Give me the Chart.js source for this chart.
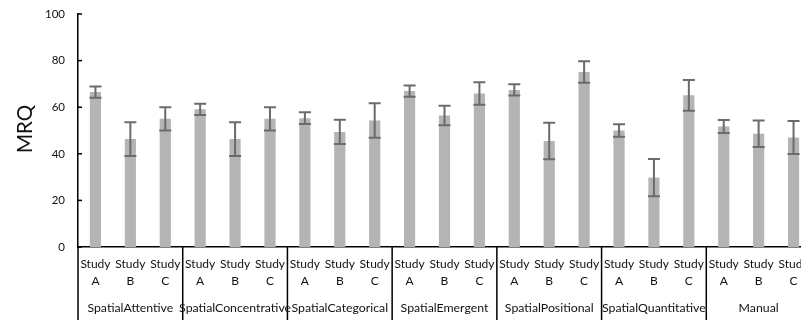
<!DOCTYPE html>
<html>
<head>
<meta charset="utf-8">
<script src="https://cdn.jsdelivr.net/npm/chart.js@4/dist/chart.umd.min.js"></script>
<style>
html, body { margin:0; padding:0; overflow:hidden; background:#fff; width:801px; height:320px; }
#wrap { width:840px; height:320px; }
</style>
</head>
<body>
<div id="wrap"><canvas id="c" width="840" height="320"></canvas></div>
<script>
const groups = ['SpatialAttentive','SpatialConcentrative','SpatialCategorical','SpatialEmergent','SpatialPositional','SpatialQuantitative','Manual'];
const studies = ['A','B','C'];
const means  = [66.5,46.3,55.0, 59.1,46.3,55.0, 55.3,49.4,54.3, 66.9,56.4,65.9, 67.4,45.5,75.1, 50.0,29.8,65.1, 51.7,48.6,47.0];
const errors = [2.4,7.2,5.0,   2.4,7.2,5.0,   2.5,5.2,7.4,   2.4,4.2,4.8,   2.4,7.8,4.6,   2.7,8.0,6.6,   2.8,5.7,7.1];
const yTicks = [0,20,40,60,80,100];
const yTitle = 'MRQ';

const labels = groups.flatMap(g => studies.map(s => ['Study', s]));
const FONT = 'Lato';

const extras = {
  id: 'extras',
  afterDatasetsDraw(chart) {
    const ctx = chart.ctx, x = chart.scales.x, y = chart.scales.y;
    ctx.save();
    ctx.strokeStyle = '#6b6b6b';
    ctx.lineWidth = 2;
    means.forEach((m, i) => {
      const px = x.getPixelForValue(i);
      const top = y.getPixelForValue(m + errors[i]);
      const bot = y.getPixelForValue(m - errors[i]);
      ctx.beginPath();
      ctx.moveTo(px, top); ctx.lineTo(px, bot);
      ctx.moveTo(px - 6, top); ctx.lineTo(px + 6, top);
      ctx.moveTo(px - 6, bot); ctx.lineTo(px + 6, bot);
      ctx.stroke();
    });
    ctx.restore();
  },
  afterDraw(chart) {
    const ctx = chart.ctx, x = chart.scales.x, y = chart.scales.y, ca = chart.chartArea;
    const H = chart.height;
    ctx.save();
    ctx.strokeStyle = '#000';
    ctx.lineWidth = 1.5;
    yTicks.forEach(v => {
      const py = y.getPixelForValue(v);
      ctx.beginPath(); ctx.moveTo(ca.left - 1, py); ctx.lineTo(ca.left + 4, py); ctx.stroke();
    });
    for (let g = 0; g <= groups.length; g++) {
      let bx;
      if (g === 0) bx = ca.left;
      else if (g === groups.length) bx = ca.right;
      else bx = (x.getPixelForValue(3*g - 1) + x.getPixelForValue(3*g)) / 2;
      ctx.beginPath(); ctx.moveTo(bx, ca.bottom); ctx.lineTo(bx, H); ctx.stroke();
    }
    ctx.fillStyle = '#111';
    ctx.font = '12.3px ' + FONT;
    ctx.textAlign = 'center';
    ctx.textBaseline = 'middle';
    groups.forEach((g, k) => {
      const cx = (x.getPixelForValue(3*k) + x.getPixelForValue(3*k + 2)) / 2;
      ctx.fillText(g, cx, 308);
    });
    ctx.translate(25, 129);
    ctx.rotate(-Math.PI / 2);
    ctx.font = '20.5px ' + FONT;
    ctx.fillText(yTitle, 0, 0);
    ctx.restore();
  }
};

new Chart(document.getElementById('c'), {
  type: 'bar',
  data: {
    labels: labels,
    datasets: [{
      data: means,
      backgroundColor: '#b4b4b4',
      borderWidth: 0,
      barPercentage: 0.32,
      categoryPercentage: 1.0
    }]
  },
  options: {
    responsive: false,
    animation: false,
    devicePixelRatio: 1,
    layout: { padding: { top: 14, right: 29, bottom: 0, left: 0 } },
    plugins: { legend: { display: false }, tooltip: { enabled: false } },
    scales: {
      x: {
        type: 'category',
        grid: { display: false, drawTicks: false },
        border: { display: true, color: '#000', width: 1.5 },
        ticks: { font: { family: FONT, size: 12, lineHeight: '17px' }, color: '#111', padding: 9, maxRotation: 0, minRotation: 0, autoSkip: false },
        afterFit: s => { s.height = 73; s.paddingLeft = 0; s.paddingRight = 0; }
      },
      y: {
        min: 0, max: 100,
        afterBuildTicks: s => { s.ticks = yTicks.map(v => ({ value: v })); },
        grid: { display: false, drawTicks: false },
        border: { display: true, color: '#000', width: 1.5 },
        ticks: { font: { family: FONT, size: 11.5 }, color: '#111', padding: 13 },
        afterFit: s => { s.width = 78; s.paddingTop = 0; s.paddingBottom = 0; }
      }
    }
  },
  plugins: [extras]
});
</script>
</body>
</html>
